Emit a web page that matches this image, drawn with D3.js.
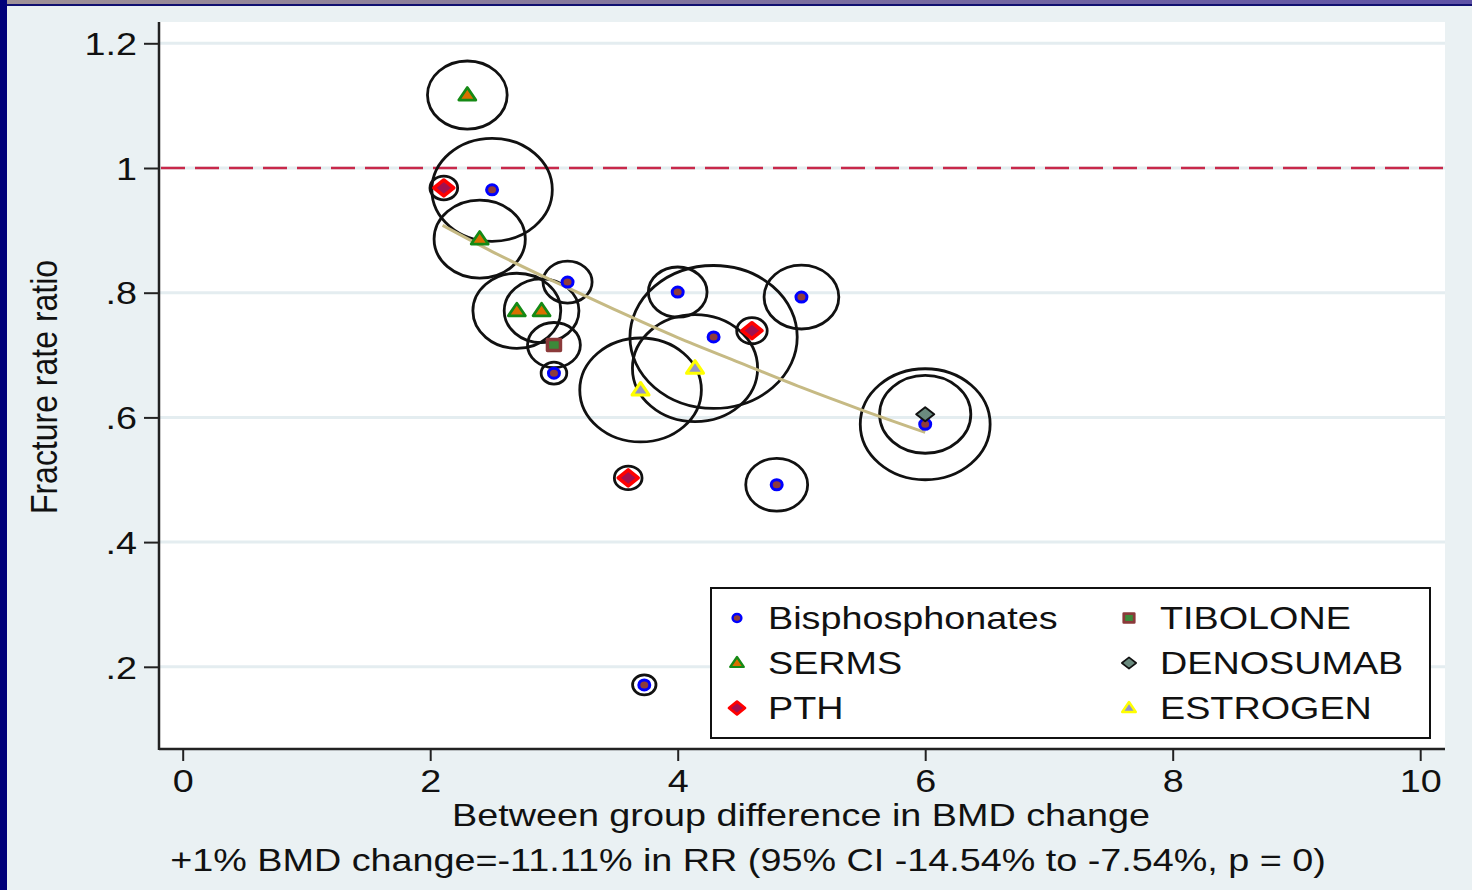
<!DOCTYPE html>
<html>
<head>
<meta charset="utf-8">
<script src="https://cdnjs.cloudflare.com/ajax/libs/d3/7.8.5/d3.min.js"></script>
<style>
  html, body { margin: 0; padding: 0; background: #eaf1f3; }
  text { font-family: 'Liberation Sans', Arial, sans-serif; fill: #111; }
</style>
</head>
<body>
<script>
// data
var groups = ['Bisphosphonates', 'SERMS', 'PTH', 'TIBOLONE', 'DENOSUMAB', 'ESTROGEN']
var studyGroup = ['SERMS', 'SERMS', 'SERMS', 'SERMS',
  'Bisphosphonates', 'Bisphosphonates', 'Bisphosphonates', 'Bisphosphonates', 'Bisphosphonates',
  'Bisphosphonates', 'Bisphosphonates', 'Bisphosphonates', 'Bisphosphonates',
  'PTH', 'PTH', 'PTH', 'TIBOLONE', 'DENOSUMAB', 'ESTROGEN', 'ESTROGEN']
var bmdDiff = [2.30, 2.40, 2.70, 2.90, 2.50, 3.11, 3.00, 4.00, 4.29, 5.00, 6.00, 4.80, 3.73,
  2.11, 4.60, 3.60, 3.00, 6.00, 3.70, 4.14]
var fractureRR = [1.117, 0.886, 0.771, 0.771, 0.965, 0.817, 0.671, 0.801, 0.729, 0.793, 0.589, 0.492, 0.171,
  0.968, 0.739, 0.503, 0.716, 0.605, 0.644, 0.679]
var studyWeight = [11.6, 15.2, 14.1, 10.2, 26.5, 4.4, 1.2, 6.3, 51.1, 10.2, 30.8, 7.0, 1.0,
  1.4, 1.7, 1.4, 5.1, 15.2, 27.0, 28.6]
// fitted line
var fitX = [2.1, 2.5, 3.0, 3.5, 4.0, 4.5, 5.0, 5.5, 6.0]
var fitY = [0.908, 0.866, 0.818, 0.772, 0.728, 0.688, 0.648, 0.611, 0.576]
var xTicks = [0, 2, 4, 6, 8, 10]
var yTicks = [0.2, 0.4, 0.6, 0.8, 1, 1.2]
var yTickLabels = ['.2', '.4', '.6', '.8', '1', '1.2']
var refLine = 1

var W = 1472, H = 890
var stretch = 1.18
var plot = { left: 159, right: 1445, top: 22, bottom: 749 }

var svg = d3.select('body').append('svg')
  .attr('width', W).attr('height', H)

// frame decoration
var defs = svg.append('defs')
var grad = defs.append('linearGradient').attr('id', 'topgrad')
grad.append('stop').attr('offset', '0%').attr('stop-color', '#a09296')
grad.append('stop').attr('offset', '100%').attr('stop-color', '#5e52a6')
svg.append('rect').attr('width', W).attr('height', H).attr('fill', '#eaf1f3')
svg.append('rect').attr('width', W).attr('height', 4).attr('fill', 'url(#topgrad)')
svg.append('rect').attr('y', 4).attr('width', W).attr('height', 2).attr('fill', '#101070')
svg.append('rect').attr('width', 7).attr('height', H).attr('fill', '#00007a')

svg.append('rect')
  .attr('x', plot.left).attr('y', plot.top)
  .attr('width', plot.right - plot.left).attr('height', plot.bottom - plot.top)
  .attr('fill', '#fff')

var x = d3.scaleLinear().domain([0, 10]).range([182.7, 1420.2])
var y = d3.scaleLinear().domain([0.2, 1.2]).range([666.8, 43.3])
var r = d3.scaleSqrt().domain([0, 100]).range([0, 100])

// gridlines
svg.append('g').selectAll('line').data(yTicks).join('line')
  .attr('x1', plot.left).attr('x2', plot.right)
  .attr('y1', d => y(d)).attr('y2', d => y(d))
  .attr('stroke', '#e4edf0').attr('stroke-width', 3)

// reference line at 1
svg.append('line')
  .attr('x1', plot.left + 2).attr('x2', plot.right)
  .attr('y1', y(refLine)).attr('y2', y(refLine))
  .attr('stroke', '#c8284a').attr('stroke-width', 2.5)
  .attr('stroke-dasharray', '24,10')

// axes
var yAxis = svg.append('g').attr('transform', 'translate(' + plot.left + ',0)')
  .call(d3.axisLeft(y).tickValues(yTicks).tickFormat((d, i) => yTickLabels[i]).tickSize(15).tickSizeOuter(0))
yAxis.select('.domain').remove()
yAxis.selectAll('line').attr('stroke', '#222').attr('stroke-width', 2)
yAxis.selectAll('text')
  .attr('x', 0).attr('dy', '0.35em')
  .attr('transform', 'translate(-22,0) scale(' + stretch + ',1)')
  .style('font-size', '32px').style('font-family', "'Liberation Sans', Arial, sans-serif").attr('fill', '#111')

var xAxis = svg.append('g').attr('transform', 'translate(0,' + plot.bottom + ')')
  .call(d3.axisBottom(x).tickValues(xTicks).tickFormat(d3.format('d')).tickSize(12).tickSizeOuter(0))
xAxis.select('.domain').remove()
xAxis.selectAll('line').attr('stroke', '#222').attr('stroke-width', 2)
xAxis.selectAll('text')
  .attr('y', 0).attr('dy', 0)
  .attr('transform', 'translate(0,43) scale(' + stretch + ',1)')
  .style('font-size', '32px').style('font-family', "'Liberation Sans', Arial, sans-serif").attr('fill', '#111')

svg.append('line').attr('x1', plot.left).attr('x2', plot.left)
  .attr('y1', plot.top).attr('y2', plot.bottom + 1).attr('stroke', '#222').attr('stroke-width', 2.5)
svg.append('line').attr('x1', plot.left).attr('x2', plot.right)
  .attr('y1', plot.bottom).attr('y2', plot.bottom).attr('stroke', '#222').attr('stroke-width', 2.5)

// weight circles
var pts = bmdDiff.map((d, i) => ({ x: d, y: fractureRR[i], w: studyWeight[i], g: studyGroup[i] }))
svg.append('g').selectAll('ellipse').data(pts).join('ellipse')
  .attr('cx', d => x(d.x)).attr('cy', d => y(d.y))
  .attr('rx', d => r(d.w) * 1.17).attr('ry', d => r(d.w))
  .attr('fill', 'none').attr('stroke', '#111').attr('stroke-width', 2.8)

// fitted line
svg.append('path')
  .datum(fitX.map((d, i) => [d, fitY[i]]))
  .attr('d', d3.line().x(d => x(d[0])).y(d => y(d[1])).curve(d3.curveMonotoneX))
  .attr('fill', 'none').attr('stroke', '#c6ba84').attr('stroke-width', 3)

// marker styles
var markerStyle = {
  Bisphosphonates: { path: 'M-5.5,0A5.5,5 0 1,0 5.5,0A5.5,5 0 1,0 -5.5,0Z', stroke: '#0000ff', fill: '#8e3c3c', sw: 3 },
  SERMS: { path: 'M0,-7.5L8.5,5L-8.5,5Z', stroke: '#158a15', fill: '#d97000', sw: 2.8 },
  PTH: { path: 'M0,-8L10,0L0,8L-10,0Z', stroke: '#ff0000', fill: '#a3104e', sw: 3.5 },
  TIBOLONE: { path: 'M-6.5,-5.5L6.5,-5.5L6.5,5.5L-6.5,5.5Z', stroke: '#8b3a3a', fill: '#3d8a3a', sw: 3.5 },
  DENOSUMAB: { path: 'M0,-7L9,0L0,7L-9,0Z', stroke: '#111', fill: '#6a8a7e', sw: 2 },
  ESTROGEN: { path: 'M0,-7.5L8.5,5L-8.5,5Z', stroke: '#ffff00', fill: '#9494c8', sw: 3 }
}

svg.append('g').selectAll('path').data(pts).join('path')
  .attr('transform', d => 'translate(' + x(d.x) + ',' + y(d.y) + ')')
  .attr('d', d => markerStyle[d.g].path)
  .attr('fill', d => markerStyle[d.g].fill)
  .attr('stroke', d => markerStyle[d.g].stroke)
  .attr('stroke-width', d => markerStyle[d.g].sw)
  .attr('stroke-linejoin', 'round')

// legend
var legend = svg.append('g')
legend.append('rect')
  .attr('x', 711).attr('y', 588).attr('width', 719).attr('height', 150)
  .attr('fill', '#fff').attr('stroke', '#111').attr('stroke-width', 2)
var legItems = legend.selectAll('g.item').data(groups).join('g')
  .attr('class', 'item')
  .attr('transform', (d, i) => 'translate(' + (i < 3 ? 737 : 1129) + ',' + (618 + (i % 3) * 45) + ')')
legItems.append('path')
  .attr('d', d => markerStyle[d].path)
  .attr('transform', 'scale(0.8)')
  .attr('fill', d => markerStyle[d].fill)
  .attr('stroke', d => markerStyle[d].stroke)
  .attr('stroke-width', d => markerStyle[d].sw)
  .attr('stroke-linejoin', 'round')
legItems.append('text')
  .attr('transform', 'translate(31,11) scale(' + stretch + ',1)')
  .style('font-size', '32px')
  .text(d => d)

// titles
svg.append('text')
  .attr('transform', 'translate(801,826) scale(' + stretch + ',1)')
  .attr('text-anchor', 'middle').style('font-size', '32px')
  .text('Between group difference in BMD change')
svg.append('text')
  .attr('transform', 'translate(748,871) scale(' + stretch + ',1)')
  .attr('text-anchor', 'middle').style('font-size', '32px')
  .text('+1% BMD change=-11.11% in RR (95% CI -14.54% to -7.54%, p = 0)')
svg.append('text')
  .attr('transform', 'translate(57,387) scale(' + stretch + ',1) rotate(-90)')
  .attr('text-anchor', 'middle').style('font-size', '32px')
  .text('Fracture rate ratio')
</script>
</body>
</html>
